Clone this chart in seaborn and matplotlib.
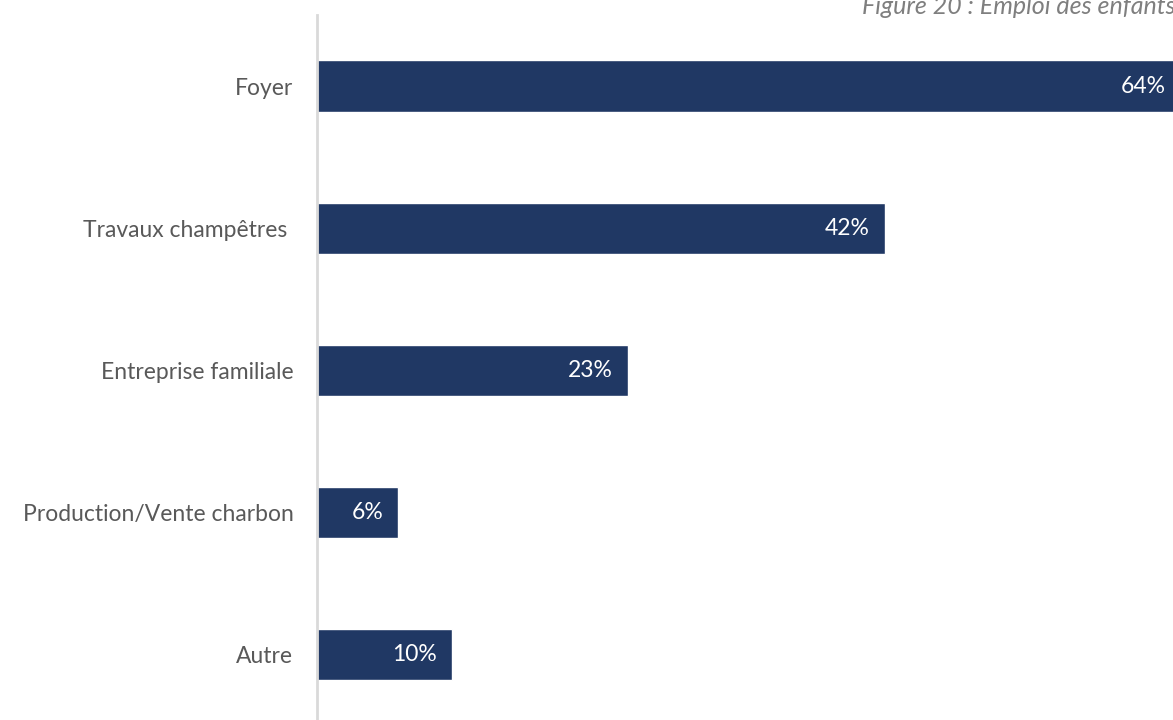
import matplotlib
matplotlib.use("Agg")
import matplotlib.pyplot as plt
import seaborn as sns
import pandas as pd

categories = ["Foyer", "Travaux champêtres ", "Entreprise familiale", "Production/Vente charbon", "Autre"]
values = [64, 42, 23, 6, 10]
labels = ["64%", "42%", "23%", "6%", "10%"]
title = "Figure 20 : Emploi des enfants"

sns.set_style("white")
plt.rcParams['font.family'] = ['Lato', 'DejaVu Sans']

df = pd.DataFrame({"cat": categories, "val": values})

fig = plt.figure(figsize=(11.73, 7.2), dpi=100)
ax = fig.add_axes([317/1173, -0.008, 1 - 317/1173, 1 - 15/720 + 0.008])
sns.barplot(data=df, y="cat", x="val", color="#203864", width=0.36, ax=ax, saturation=1)
ax.set_xlim(0, 63.3)
ax.set_ylim(4.5, -0.5)
for s in ["top", "right", "bottom"]:
    ax.spines[s].set_visible(False)
ax.spines["left"].set_color("#d9d9d9")
ax.spines["left"].set_linewidth(2)
ax.set_xticks([])
ax.set_xlabel("")
ax.set_ylabel("")
ax.tick_params(axis="y", length=0, pad=17, labelsize=16.5, labelcolor="#595959")

for i, (v, l) in enumerate(zip(values, labels)):
    xv = v - 1.1 if v < 63.3 else 63.3 - 0.55
    ax.text(xv, i, l, ha="right", va="center", color="white", fontsize=16.5)

fig.text(862/1173, 1 - 14/720, title, ha="left", va="baseline", fontsize=18,
         style="italic", color="#7f7f7f")

fig.savefig("out.png", dpi=100)
